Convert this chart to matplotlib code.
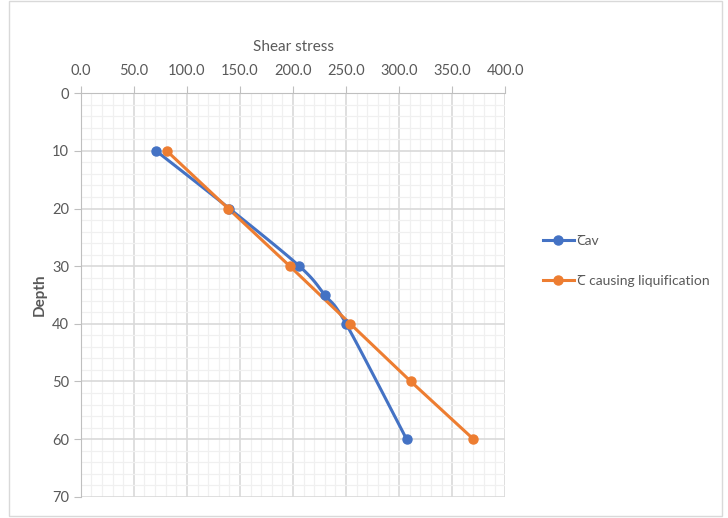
import matplotlib
matplotlib.use("Agg")
import matplotlib.pyplot as plt
from matplotlib.ticker import MultipleLocator
import numpy as np

plt.rcParams['font.family'] = ['Lato', 'Noto Sans', 'DejaVu Sans']

# data
depth_av = [10, 20, 30, 35, 40, 60]
tau_av = [71, 140, 206, 230, 250, 307]
depth_liq = [10, 20, 30, 40, 50, 60]
tau_liq = [81, 139, 197, 254, 311, 370]


def smooth(x, y, n=20):
    # catmull-rom style curve through the points (like Excel smoothed line)
    p = np.column_stack([x, y]).astype(float)
    p = np.vstack([p[0], p, p[-1]])
    out = []
    for i in range(1, len(p) - 2):
        p0, p1, p2, p3 = p[i - 1], p[i], p[i + 1], p[i + 2]
        t = np.linspace(0, 1, n)[:, None]
        seg = 0.5 * ((2 * p1) + (-p0 + p2) * t + (2 * p0 - 5 * p1 + 4 * p2 - p3) * t ** 2
                     + (-p0 + 3 * p1 - 3 * p2 + p3) * t ** 3)
        out.append(seg)
    out = np.vstack(out)
    return out[:, 0], out[:, 1]


fig = plt.figure(figsize=(7.28, 5.18), dpi=100)
fig.patches.append(plt.Rectangle((0.012, 0.004), 0.98, 0.994, transform=fig.transFigure,
                                 fill=False, edgecolor='#d9d9d9', lw=1))
ax = fig.add_axes([0.111, 0.041, 0.583, 0.779])

blue = '#4472c4'
orange = '#ed7d31'

sx, sy = smooth(tau_av, depth_av)
ax.plot(sx, sy, color=blue, lw=2.2, zorder=3)
ax.plot(tau_av, depth_av, 'o', color=blue, ms=6.5, zorder=4)
ax.plot(tau_liq, depth_liq, '-', color=orange, lw=2.2, zorder=3)
ax.plot(tau_liq, depth_liq, 'o', color=orange, ms=6.5, zorder=4)

# legend handles
ax.plot([], [], '-o', color=blue, lw=2.2, ms=6.5, label='Ꞇav')
ax.plot([], [], '-o', color=orange, lw=2.2, ms=6.5, label='Ꞇ causing liquification')

ax.set_xlim(0, 400)
ax.set_ylim(70, 0)
ax.xaxis.set_major_locator(MultipleLocator(50))
ax.xaxis.set_minor_locator(MultipleLocator(10))
ax.yaxis.set_major_locator(MultipleLocator(10))
ax.yaxis.set_minor_locator(MultipleLocator(2))
ax.xaxis.tick_top()
ax.xaxis.set_label_position('top')
ax.set_xticklabels([f"{v:.1f}" for v in ax.get_xticks()])

ax.grid(which='major', color='#d9d9d9', lw=1.2)
ax.grid(which='minor', color='#f0f0f0', lw=0.9)
ax.set_axisbelow(True)

for s in ['right', 'bottom']:
    ax.spines[s].set_visible(False)
ax.spines['left'].set_color('#bfbfbf')
ax.spines['top'].set_color('#bfbfbf')
ax.tick_params(which='major', colors='#595959', labelsize=10.5, length=5, color='#bfbfbf')
ax.tick_params(which='minor', length=0)
ax.tick_params(axis='x', pad=6)

ax.set_xlabel('Shear stress', color='#595959', fontsize=11, labelpad=9)
ax.set_ylabel('Depth', color='#595959', fontsize=11, fontweight='bold', labelpad=4)

leg = ax.legend(loc='center left', bbox_to_anchor=(1.06, 0.585), frameon=False,
                fontsize=10, labelspacing=2.0, handlelength=2.2, handletextpad=0.2)
for t in leg.get_texts():
    t.set_color('#595959')

fig.savefig('out.png', dpi=100)
